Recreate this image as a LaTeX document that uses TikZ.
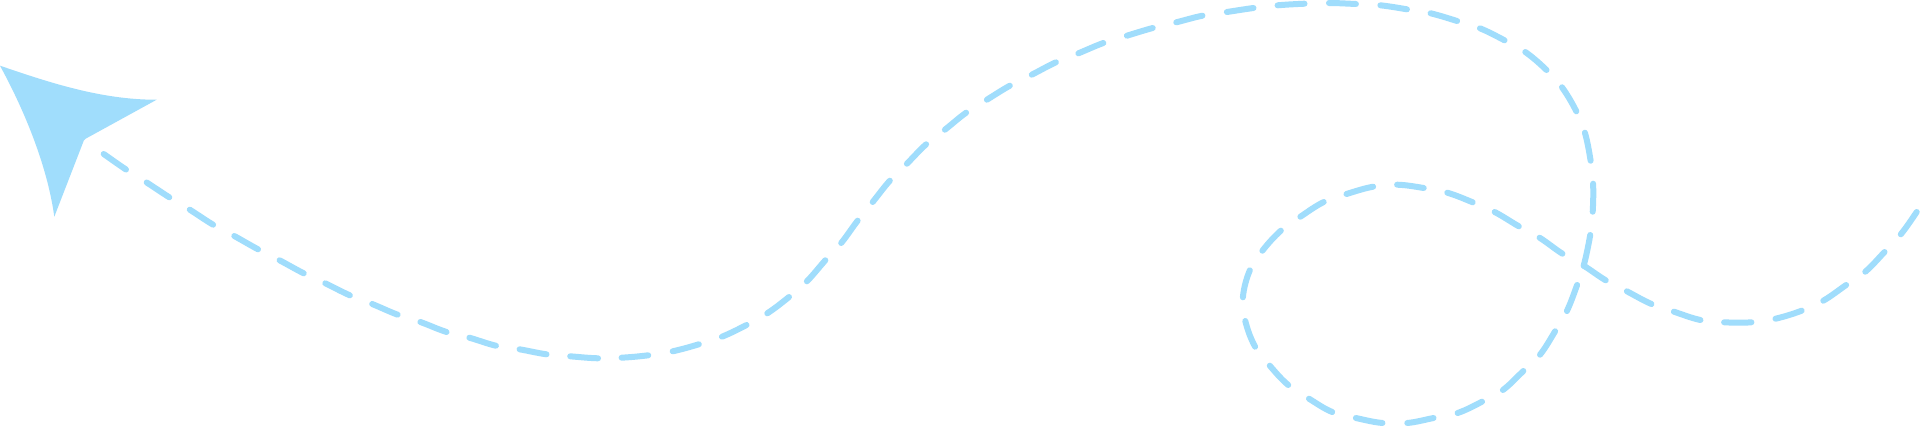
\documentclass[tikz,border=0pt]{standalone}
\usetikzlibrary{calc}
\definecolor{skyarrow}{HTML}{A0DDFC}
\tikzset{dashpiece/.style={draw=skyarrow,line width=6pt,line cap=round},
         headshape/.style={fill=skyarrow,draw=none}}
\begin{document}
\begin{tikzpicture}[x=1pt,y=-1pt]
\path[use as bounding box] (0,0) rectangle (1920,426);
\clip (0,0) rectangle (1920,426);
\fill[white] (0,0) rectangle (1920,426);
\fill[headshape] (0,65.7) .. controls (45,81) and (100,100) .. (156.7,99.7)
  -- (86,138.5) .. controls (84.8,139.2) and (84.3,139.5) .. (83.8,140.6) -- (54.3,216.7) .. controls (48,170) and (27,115) .. (0,65.7) -- cycle;
\foreach \i/\ax/\ay/\bx/\by in {
0/60/125/85/141,
1/103.7/154/126/169.5,
2/146.7/182.5/169.3/197.3,
3/189.8/209.7/213.1/224.7,
4/234.3/236/258/249.3,
5/279.6/260.3/303.7/273.3,
6/325.3/283.3/349.8/295.3,
7/372.2/304/397.6/314.7,
8/420.4/322/446.5/332,
9/469.4/337.7/495.9/345.7,
10/519.6/349.3/546.5/354.3,
11/570.2/356.3/598/358.3,
12/621.6/357.7/648.2/355.3,
13/672.7/351.3/698.8/344.3,
14/722/336.7/746.5/325,
15/767.3/313.3/789/297,
16/806.9/281.3/825.3/260.3,
17/841.2/243/857.6/220.7,
18/872.7/202/889.8/180.7,
19/906.9/163.7/926.1/144.3,
20/944.9/129.7/966.1/112.7,
21/986.9/99.7/1009.8/85.7,
22/1031.8/74.7/1055.9/62.3,
23/1078.4/53.3/1103.3/43,
24/1126.9/35.7/1152.7/28,
25/1176.3/22.3/1202.4/15.7,
26/1226.9/12/1253.5/8,
27/1277.6/5.3/1304.5/3.7,
28/1329/3/1355.9/4,
29/1380.4/5.3/1406.9/9.3,
30/1430.6/13.3/1457.1/21,
31/1480/28.3/1504.5/40.3,
32/1525.3/52/1546.5/70,
33/1562/87.3/1576.3/111.3,
34/1584.9/132.7/1590.6/160.7,
35/1593.1/183.7/1592.7/211.7,
36/1590.2/235/1583.7/265.7,
37/1577.1/285/1566.9/311,
38/1555.1/331.3/1540/354.7,
39/1523.3/371/1502.9/390,
40/1482/401.7/1457.6/413,
41/1433.5/418/1407.3/423,
42/1382.4/423/1355.9/418,
43/1332.2/412/1309/398.7,
44/1288.2/385/1269.8/365.7,
45/1255.1/346.7/1245.3/321,
46/1242.9/297.3/1249.8/270.3,
47/1262.4/250.7/1280.8/230.7,
48/1300.4/216.7/1323.7/202,
49/1346.5/194/1373.1/186.7,
50/1397.1/184.7/1423.7/188,
51/1447.3/192.7/1472.7/202.3,
52/1494.7/212/1518.8/226.3,
53/1539.6/237.7/1562.4/253.7,
54/1583.7/265.7/1605.7/280.3,
55/1626.9/291.3/1651.4/304,
56/1673.9/311.7/1700.4/320,
57/1724.1/322.3/1751.4/322.3,
58/1775.5/318.7/1801.6/310.7,
59/1823.3/300.7/1846.1/285,
60/1865.3/271.7/1884.5/252,
61/1900.8/234.3/1916.7/212,
62/1931/190/1945/168}{
  \coordinate (a\i) at (\ax,\ay);
  \coordinate (b\i) at (\bx,\by);
}
\foreach \i [evaluate=\i as \p using int(\i-1), evaluate=\i as \n using int(\i+1)] in {1,...,61}{
  \draw[dashpiece] (a\i) .. controls ($(a\i)+0.18*(b\i)-0.18*(b\p)$) and ($(b\i)-0.18*(a\n)+0.18*(a\i)$) .. (b\i);
}
\end{tikzpicture}
\end{document}
